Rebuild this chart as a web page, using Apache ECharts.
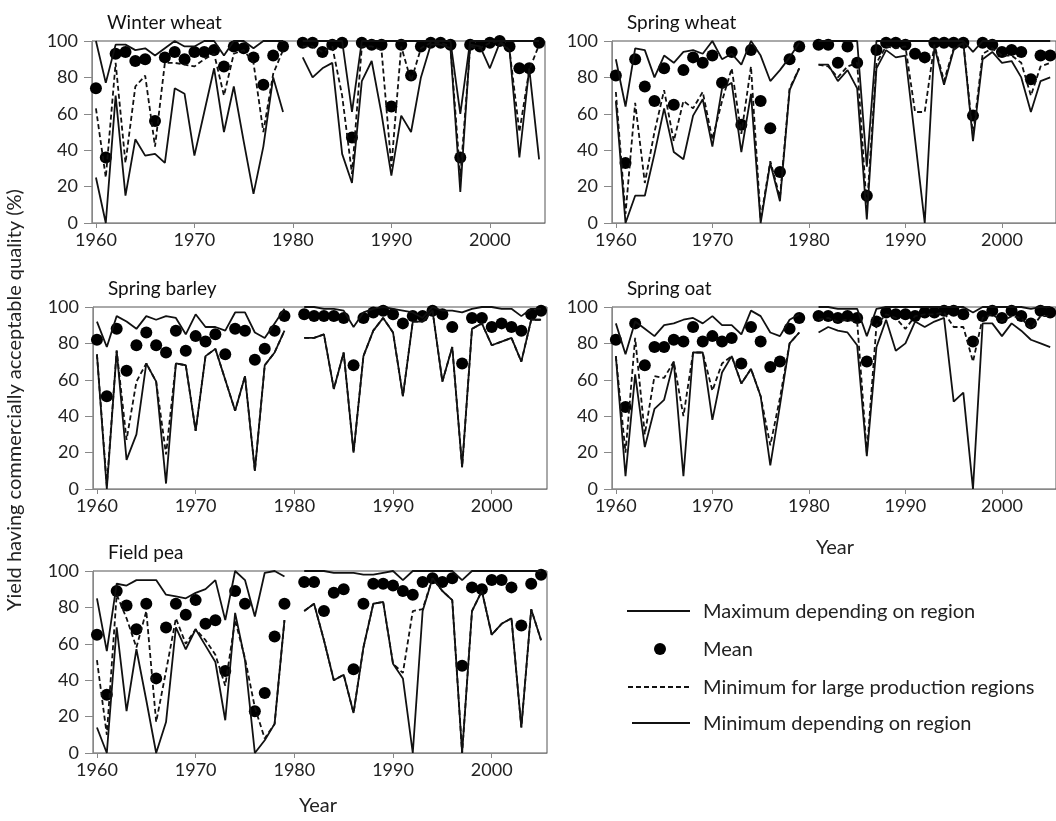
<!DOCTYPE html>
<html>
<head>
<meta charset="utf-8">
<title>Yield having commercially acceptable quality</title>
<script src="https://cdn.jsdelivr.net/npm/echarts@6/dist/echarts.min.js"></script>
<style>
html, body { margin: 0; padding: 0; background: #fff; }
#chart { width: 1056px; height: 821px; }
</style>
</head>
<body>
<div id="chart"></div>
<script>
// years on the x axis (1980 has no data)
const years = [1960, 1961, 1962, 1963, 1964, 1965, 1966, 1967, 1968, 1969,
  1970, 1971, 1972, 1973, 1974, 1975, 1976, 1977, 1978, 1979,
  1980, 1981, 1982, 1983, 1984, 1985, 1986, 1987, 1988, 1989,
  1990, 1991, 1992, 1993, 1994, 1995, 1996, 1997, 1998, 1999,
  2000, 2001, 2002, 2003, 2004, 2005];
const xTicks = [1960, 1970, 1980, 1990, 2000];

// Winter wheat
const wwMax = [100, 77, 98, 98, 95, 96, 92, 96, 100, 97, 97, 100, 100, 92, 100, 100, 96, 100, 100, 100,
  null, 100, 100, 100, 100, 100, 61, 100, 100, 100, 100, 100, 100, 100, 100, 100, 100, 60, 100, 100, 100, 100, 100, 100, 100, 100];
const wwMean = [74, 36, 93, 94, 89, 90, 56, 91, 94, 90, 94, 94, 95, 86, 97, 96, 91, 76, 92, 97,
  null, 99, 99, 94, 98, 99, 47, 99, 98, 98, 64, 98, 81, 97, 99, 99, 98, 36, 98, 97, 99, 100, 97, 85, 85, 99];
const wwLarge = [63, 25, 88, 33, 75, 81, 42, 88, 88, 87, 86, 90, 93, 70, 93, 95, 88, 50, 82, 95,
  null, 97, 97, 94, 97, 70, 27, 97, 97, 95, 31, 97, 78, 96, 99, 99, 97, 25, 97, 96, 99, 100, 95, 50, 84, 98];
const wwMin = [25, 0, 70, 15, 46, 37, 38, 33, 74, 71, 37, 61, 85, 50, 75, 45, 16, 42, 80, 61,
  null, 91, 80, 85, 88, 38, 22, 78, 89, 60, 26, 59, 50, 80, 98, 98, 96, 17, 98, 97, 85, 99, 95, 36, 85, 35];

// Spring wheat
const swMax = [90, 64, 96, 95, 80, 92, 88, 94, 95, 93, 100, 90, 93, 87, 100, 92, 78, 84, 91, 99,
  null, 100, 100, 100, 100, 100, 31, 100, 100, 100, 100, 100, 100, 100, 100, 100, 100, 94, 100, 100, 100, 100, 100, 100, 100, 100];
const swMean = [81, 33, 90, 75, 67, 85, 65, 84, 91, 88, 92, 77, 94, 54, 95, 67, 52, 28, 90, 97,
  null, 98, 98, 88, 97, 88, 15, 95, 99, 99, 98, 93, 91, 99, 99, 99, 99, 59, 99, 98, 94, 95, 94, 79, 92, 92];
const swLarge = [72, 5, 66, 22, 50, 73, 45, 67, 63, 72, 46, 67, 85, 49, 86, 2, 34, 14, 74, 85,
  null, 87, 86, 80, 86, 88, 8, 88, 97, 96, 97, 61, 61, 98, 78, 96, 99, 48, 93, 96, 92, 92, 88, 70, 86, 88];
const swMin = [67, 0, 15, 15, 38, 63, 39, 35, 59, 68, 42, 74, 77, 39, 71, 0, 33, 12, 73, 85,
  null, 87, 87, 78, 84, 74, 2, 85, 95, 91, 92, 46, 0, 97, 76, 95, 99, 45, 90, 94, 88, 89, 80, 61, 78, 80];

// Spring barley
const sbMax = [92, 78, 95, 92, 88, 95, 93, 95, 94, 85, 96, 89, 89, 87, 97, 97, 86, 83, 91, 99,
  null, 100, 100, 99, 99, 98, 89, 97, 99, 100, 99, 98, 97, 94, 100, 98, 98, 97, 99, 100, 100, 99, 99, 95, 99, 99];
const sbMean = [82, 51, 88, 65, 79, 86, 79, 75, 87, 76, 84, 81, 85, 74, 88, 87, 71, 77, 87, 95,
  null, 96, 95, 95, 95, 94, 68, 94, 97, 98, 96, 91, 95, 95, 98, 96, 89, 69, 94, 94, 89, 91, 89, 87, 96, 98];
const sbLarge = [74, 2, 76, 27, 59, 69, 59, 19, 69, 68, 32, 73, 77, 60, 43, 62, 10, 68, 75, 87,
  null, 83, 83, 85, 55, 75, 20, 73, 87, 94, 86, 51, 92, 92, 98, 59, 78, 12, 88, 91, 79, 81, 83, 70, 93, 93];
const sbMin = [74, 0, 76, 16, 30, 69, 59, 3, 69, 68, 32, 73, 77, 60, 43, 62, 10, 68, 75, 87,
  null, 83, 83, 85, 55, 75, 20, 73, 87, 94, 86, 51, 92, 92, 98, 59, 78, 12, 88, 91, 79, 81, 83, 70, 93, 93];

// Spring oat
const soMax = [91, 74, 92, 88, 84, 90, 91, 93, 94, 91, 95, 90, 90, 85, 98, 95, 86, 84, 93, 96,
  null, 100, 100, 99, 99, 99, 84, 99, 100, 100, 100, 100, 100, 100, 100, 100, 100, 97, 100, 100, 100, 100, 100, 99, 100, 100];
const soMean = [82, 45, 91, 68, 78, 78, 82, 81, 89, 81, 84, 81, 83, 69, 89, 81, 67, 70, 88, 94,
  null, 95, 95, 94, 95, 94, 70, 92, 97, 96, 96, 95, 97, 97, 98, 98, 96, 81, 95, 98, 94, 98, 95, 91, 98, 97];
const soLarge = [73, 20, 83, 30, 62, 61, 70, 40, 75, 75, 54, 69, 73, 58, 66, 51, 24, 50, 80, 86,
  null, 93, 94, 92, 93, 92, 20, 90, 96, 94, 88, 95, 96, 96, 97, 89, 89, 70, 94, 96, 92, 95, 94, 88, 95, 95];
const soMin = [73, 7, 63, 23, 44, 49, 70, 7, 75, 75, 38, 64, 73, 58, 66, 51, 13, 46, 80, 86,
  null, 86, 89, 87, 86, 79, 18, 78, 93, 76, 80, 92, 89, 92, 94, 48, 53, 0, 91, 91, 84, 91, 87, 82, 80, 78];

// Field pea
const fpMax = [85, 56, 93, 92, 95, 95, 95, 87, 86, 85, 88, 90, 95, 73, 100, 95, 75, 99, 100, 97,
  null, 100, 100, 100, 99, 99, 99, 98, 98, 99, 100, 95, 100, 100, 100, 100, 100, 95, 100, 100, 100, 100, 100, 100, 100, 100];
const fpMean = [65, 32, 89, 81, 68, 82, 41, 69, 82, 76, 84, 71, 73, 45, 89, 82, 23, 33, 64, 82,
  null, 94, 94, 78, 88, 90, 46, 82, 93, 93, 92, 89, 87, 94, 96, 94, 96, 48, 91, 90, 95, 95, 91, 70, 93, 98];
const fpLarge = [51, 10, 87, 74, 58, 78, 17, 45, 74, 60, 68, 62, 54, 37, 73, 52, 25, 8, 16, 73,
  null, 78, 82, 62, 40, 43, 22, 58, 82, 83, 49, 44, 78, 79, 96, 89, 84, 0, 78, 89, 65, 71, 74, 14, 79, 62];
const fpMin = [14, 0, 69, 23, 57, 29, 0, 17, 69, 57, 68, 59, 50, 18, 77, 51, 0, 7, 16, 73,
  null, 78, 82, 62, 40, 43, 22, 58, 82, 83, 49, 41, 0, 78, 96, 89, 84, 0, 78, 89, 65, 71, 74, 14, 79, 62];

const FONT = 'Lato, "Open Sans", sans-serif';
const INK = '#111';

const panels = [
  { name: 'Winter wheat', box: { left: 92, top: 41, width: 453, height: 182 }, max: wwMax, mean: wwMean, large: wwLarge, min: wwMin },
  { name: 'Spring wheat', box: { left: 612, top: 41, width: 455, height: 182 }, max: swMax, mean: swMean, large: swLarge, min: swMin },
  { name: 'Spring barley', box: { left: 93, top: 307, width: 454, height: 182 }, max: sbMax, mean: sbMean, large: sbLarge, min: sbMin },
  { name: 'Spring oat', box: { left: 612, top: 307, width: 455, height: 182 }, max: soMax, mean: soMean, large: soLarge, min: soMin },
  { name: 'Field pea', box: { left: 93, top: 571, width: 454, height: 182 }, max: fpMax, mean: fpMean, large: fpLarge, min: fpMin }
];

function pairs(vals) {
  return years.map((y, i) => [y, vals[i]]);
}

const grid = [], xAxis = [], yAxis = [], title = [], series = [];

panels.forEach((p, i) => {
  grid.push(Object.assign({ show: true, borderColor: '#555', borderWidth: 1 }, p.box));
  title.push({
    text: p.name,
    left: p.box.left + 10,
    top: p.box.top - 33,
    textStyle: { fontFamily: FONT, fontSize: 19, fontWeight: 'normal', color: INK }
  });
  // a little padding before 1960 so the first point sits off the axis line
  xAxis.push({
    type: 'value', gridIndex: i, min: 1959.6, max: 2005.6,
    axisLine: { show: true, lineStyle: { color: '#888', width: 1 } },
    axisTick: { show: true, length: 5, customValues: xTicks, lineStyle: { color: '#888' } },
    axisLabel: { customValues: xTicks, formatter: v => String(v), fontFamily: FONT, fontSize: 18, color: '#222', margin: 8 },
    splitLine: { show: false }
  });
  yAxis.push({
    type: 'value', gridIndex: i, min: 0, max: 100, interval: 20,
    axisLine: { show: true, lineStyle: { color: '#888', width: 1 } },
    axisTick: { show: true, length: 8, lineStyle: { color: '#888' } },
    axisLabel: { fontFamily: FONT, fontSize: 18, color: '#222', margin: 14 },
    splitLine: { show: false }
  });

  const common = { type: 'line', xAxisIndex: i, yAxisIndex: i, symbol: 'none', connectNulls: false, animation: false };
  series.push(Object.assign({ name: 'Maximum depending on region', data: pairs(p.max),
    lineStyle: { color: INK, width: 1.8 } }, common));
  series.push(Object.assign({ name: 'Minimum for large production regions', data: pairs(p.large),
    lineStyle: { color: INK, width: 1.8, type: [5, 3] } }, common));
  series.push(Object.assign({ name: 'Minimum depending on region', data: pairs(p.min),
    lineStyle: { color: INK, width: 1.8 } }, common));
  series.push({
    name: 'Mean', type: 'scatter', xAxisIndex: i, yAxisIndex: i,
    data: pairs(p.mean), symbol: 'circle', symbolSize: 12,
    itemStyle: { color: '#000', opacity: 1 }, animation: false
  });
});

// legend drawn by hand, in the empty bottom-right cell
const legendText = { fontFamily: FONT, fontSize: 20, fill: '#222', verticalAlign: 'middle' };
const graphic = [
  { type: 'line', shape: { x1: 627, y1: 611, x2: 690, y2: 611 }, style: { stroke: INK, lineWidth: 1.8 } },
  { type: 'text', x: 703, y: 612, style: Object.assign({ text: 'Maximum depending on region' }, legendText) },
  { type: 'circle', shape: { cx: 660, cy: 649, r: 6 }, style: { fill: '#000' } },
  { type: 'text', x: 703, y: 650, style: Object.assign({ text: 'Mean' }, legendText) },
  { type: 'line', shape: { x1: 628, y1: 687, x2: 690, y2: 687 }, style: { stroke: INK, lineWidth: 1.8, lineDash: [5, 3] } },
  { type: 'text', x: 703, y: 688, style: Object.assign({ text: 'Minimum for large production regions' }, legendText) },
  { type: 'line', shape: { x1: 632, y1: 723, x2: 690, y2: 723 }, style: { stroke: INK, lineWidth: 1.8 } },
  { type: 'text', x: 703, y: 724, style: Object.assign({ text: 'Minimum depending on region' }, legendText) },
  // axis titles
  { type: 'text', x: 835, y: 548, style: { text: 'Year', fontFamily: FONT, fontSize: 20, fill: '#222', align: 'center', verticalAlign: 'middle' } },
  { type: 'text', x: 318, y: 806, style: { text: 'Year', fontFamily: FONT, fontSize: 20, fill: '#222', align: 'center', verticalAlign: 'middle' } },
  { type: 'text', x: 15, y: 400, rotation: Math.PI / 2,
    style: { text: 'Yield having commercially acceptable quality (%)', fontFamily: FONT, fontSize: 20, fill: '#222', align: 'center', verticalAlign: 'middle' } }
];

const myChart = echarts.init(document.getElementById('chart'));
myChart.setOption({
  animation: false,
  backgroundColor: '#fff',
  title: title,
  grid: grid,
  xAxis: xAxis,
  yAxis: yAxis,
  series: series,
  graphic: graphic
});
</script>
</body>
</html>
